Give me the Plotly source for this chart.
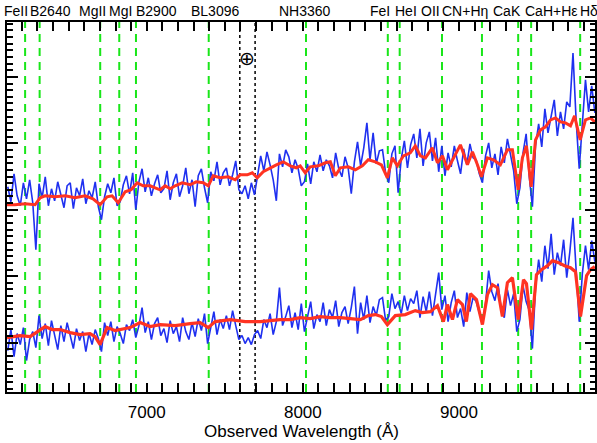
import plotly.graph_objects as go

# ---------------- data ----------------
wave_obs = [
    6110, 6130, 6150, 6170, 6190, 6210, 6230, 6250, 6270, 6290,
    6310, 6330, 6350, 6370, 6390, 6410, 6430, 6450, 6470, 6490,
    6510, 6530, 6550, 6570, 6590, 6610, 6630, 6650, 6670, 6690,
    6710, 6730, 6750, 6770, 6790, 6810, 6830, 6850, 6870, 6890,
    6910, 6930, 6950, 6970, 6990, 7010, 7030, 7050, 7070, 7090,
    7110, 7130, 7150, 7170, 7190, 7210, 7230, 7250, 7270, 7290,
    7310, 7330, 7350, 7370, 7390, 7410, 7430, 7450, 7470, 7490,
    7510, 7530, 7550, 7570, 7590, 7610, 7630, 7650, 7670, 7690,
    7710, 7730, 7750, 7770, 7790, 7810, 7830, 7850, 7870, 7890,
    7910, 7930, 7950, 7970, 7990, 8010, 8030, 8050, 8070, 8090,
    8110, 8130, 8150, 8170, 8190, 8210, 8230, 8250, 8270, 8290,
    8310, 8330, 8350, 8370, 8390, 8410, 8430, 8450, 8470, 8490,
    8510, 8530, 8550, 8570, 8590, 8610, 8630, 8650, 8670, 8690,
    8710, 8730, 8750, 8770, 8790, 8810, 8830, 8850, 8870, 8890,
    8910, 8930, 8950, 8970, 8990, 9010, 9030, 9050, 9070, 9090,
    9110, 9130, 9150, 9170, 9190, 9210, 9230, 9250, 9270, 9290,
    9310, 9330, 9350, 9370, 9390, 9410, 9430, 9450, 9470, 9490,
    9510, 9530, 9550, 9570, 9590, 9610, 9630, 9650, 9670, 9690,
    9710, 9730, 9750, 9770, 9790, 9810, 9830, 9850, 9870,
]

flux_upper = [
    20.5, 19.0, 21.8, 19.6, 18.6, 20.9, 19.3, 21.2, 18.9, 14.2,
    20.8, 19.4, 21.5, 18.6, 20.3, 19.1, 21.0, 19.8, 18.4, 20.6,
    20.9, 18.3, 20.4, 19.6, 21.3, 18.8, 20.1, 19.4, 21.0, 18.5,
    17.2, 19.5, 20.8, 19.9, 21.4, 18.6, 19.0, 20.7, 21.6, 19.8,
    21.9, 18.2, 21.0, 22.3, 20.0, 21.4, 19.6, 20.8, 21.7, 19.9,
    20.3, 22.1, 19.2, 20.9, 21.8, 19.5, 20.6, 22.4, 19.8, 21.2,
    18.5, 21.6, 22.3, 20.4, 18.9, 22.0, 21.1, 23.0, 20.7, 21.9,
    22.4, 20.6, 21.7, 23.1, 20.2, 19.8, 20.6, 19.3, 20.9, 19.7,
    21.8, 23.6, 22.1, 24.0, 22.7, 21.2, 19.1, 23.8, 22.5, 24.2,
    23.5, 21.9, 23.2, 22.3, 20.6, 21.0, 22.8, 20.8, 23.0, 22.0,
    23.7, 22.1, 23.2, 22.6, 21.4, 23.9, 22.3, 21.5, 23.5, 22.4,
    19.8, 23.0, 25.0, 22.6, 24.4, 26.9, 23.2, 25.9, 22.8, 24.1,
    24.2, 21.9, 20.9, 23.8, 24.6, 19.9, 23.3, 25.1, 22.4, 24.7,
    25.8, 23.4, 26.3, 22.6, 24.9, 26.0, 23.1, 25.4, 22.0, 24.6,
    21.6, 23.9, 22.5, 24.6, 23.1, 21.8, 24.3, 22.7, 24.8, 23.4,
    23.2, 21.8, 20.9, 23.6, 24.9, 22.4, 23.8, 21.7, 24.5, 22.9,
    25.3, 23.6, 22.1, 18.8, 20.4, 23.9, 25.8, 21.5, 18.5, 24.6,
    26.8, 24.5, 28.3, 25.9, 27.4, 29.2, 25.6, 28.0, 26.3, 29.0,
    28.5, 33.9, 27.2, 22.3, 26.8, 31.2, 28.0, 30.6, 27.9,
]

flux_lower = [
    4.1, 6.2, 3.5, 5.8, 4.7, 6.4, 3.1, 5.2, 6.0, 4.4,
    7.6, 5.3, 6.8, 4.6, 7.1, 5.5, 4.2, 6.6, 5.0, 6.9,
    5.6, 4.3, 6.3, 5.1, 6.0, 4.0, 5.8, 4.7, 6.2, 5.3,
    4.0, 6.9, 5.6, 7.0, 5.0, 6.5, 5.8, 4.8, 6.7, 6.1,
    7.2, 5.4, 6.6, 8.4, 5.9, 7.0, 5.2, 6.8, 7.4, 5.6,
    6.3, 4.9, 7.1, 5.8, 6.5, 5.0, 7.4, 6.0, 5.2, 6.9,
    5.5, 7.3, 6.1, 7.8, 4.8, 6.4, 8.0, 5.7, 7.2, 6.3,
    7.6, 6.2, 8.1, 6.6, 5.2, 5.6, 4.8, 5.4, 4.7, 5.7,
    6.1, 5.3, 7.2, 6.4, 7.8, 5.7, 7.0, 10.4, 6.6, 7.5,
    8.6, 6.4, 7.9, 6.2, 8.8, 6.0, 7.4, 9.0, 6.3, 7.7,
    7.0, 8.9, 6.6, 8.2, 7.4, 9.1, 6.5, 7.9, 8.5, 6.8,
    8.4, 10.5, 5.8, 8.9, 7.2, 9.6, 6.9, 8.5, 7.6, 9.2,
    9.4, 7.1, 7.5, 9.8, 8.3, 9.0, 7.8, 9.6, 8.1, 9.3,
    8.8, 10.1, 7.4, 9.5, 8.0, 10.0, 7.6, 9.7, 11.9, 8.2,
    9.6, 7.0, 8.9, 10.1, 7.4, 8.3, 6.5, 9.9, 8.0, 9.4,
    9.0, 7.9, 6.9, 8.8, 12.1, 10.0, 9.1, 10.8, 8.2, 7.4,
    10.2, 8.6, 9.8, 6.0, 7.2, 10.6, 9.0, 8.1, 4.3, 10.4,
    13.2, 11.0, 14.6, 12.3, 15.8, 11.7, 13.9, 12.6, 15.2, 11.4,
    14.0, 17.4, 12.5, 7.0, 11.8, 14.6, 12.2, 15.1, 13.0,
]

model_upper_wave = [
    6105, 6156, 6221, 6285, 6317, 6349, 6413, 6477, 6541, 6605,
    6656, 6701, 6746, 6778, 6817, 6862, 6900, 6938, 6977, 7022,
    7054, 7086, 7118, 7150, 7182, 7227, 7278, 7317, 7362, 7394,
    7426, 7470, 7522, 7567, 7599, 7644, 7676, 7708, 7746, 7791,
    7830, 7874, 7919, 7958, 7983, 8015, 8047, 8099, 8144, 8176,
    8208, 8240, 8291, 8336, 8381, 8419, 8464, 8503, 8541, 8573,
    8605, 8644, 8688, 8720, 8753, 8785, 8829, 8862, 8894, 8926,
    8958, 9009, 9054, 9086, 9118, 9144, 9182, 9220, 9265, 9310,
    9342, 9379, 9406, 9432, 9462, 9490, 9522, 9554, 9586, 9618,
    9650, 9682, 9714, 9740, 9776, 9810, 9842, 9870,
]
model_upper_flux = [
    18.7, 18.7, 18.8, 18.7, 19.4, 19.6, 19.5, 19.6, 19.4, 19.6,
    19.3, 18.7, 19.5, 19.6, 18.9, 20.0, 20.2, 20.9, 20.6, 20.6,
    20.4, 20.2, 20.6, 20.3, 20.6, 20.9, 20.7, 21.0, 20.9, 20.6,
    21.6, 21.4, 21.5, 21.2, 21.7, 21.7, 21.9, 21.4, 22.0, 22.4,
    22.7, 23.0, 22.6, 22.4, 22.6, 21.9, 22.5, 22.6, 22.9, 23.0,
    21.6, 22.4, 22.5, 22.2, 22.6, 23.2, 23.0, 22.7, 21.4, 23.4,
    22.6, 23.6, 23.9, 24.6, 23.6, 23.4, 24.4, 22.9, 23.6, 22.2,
    23.2, 24.7, 22.7, 24.0, 22.7, 21.5, 23.4, 23.2, 22.7, 24.2,
    24.2, 20.2, 23.4, 24.6, 20.5, 25.2, 26.2, 26.5, 27.2, 27.4,
    27.0, 26.9, 26.6, 27.6, 25.2, 27.2, 27.4, 27.0,
]

model_lower_wave = [
    6105, 6188, 6253, 6317, 6349, 6394, 6445, 6509, 6573, 6637,
    6669, 6701, 6746, 6797, 6829, 6894, 6958, 7022, 7086, 7182,
    7278, 7342, 7394, 7438, 7535, 7631, 7727, 7791, 7855, 7919,
    7983, 8047, 8112, 8176, 8240, 8304, 8368, 8419, 8464, 8503,
    8541, 8592, 8656, 8720, 8765, 8817, 8862, 8900, 8926, 8958,
    8990, 9022, 9047, 9073, 9112, 9150, 9182, 9214, 9246, 9278,
    9310, 9342, 9379, 9413, 9432, 9464, 9496, 9528, 9567, 9599,
    9637, 9676, 9714, 9746, 9778, 9817, 9842, 9870,
]
model_lower_flux = [
    5.4, 5.6, 5.5, 6.2, 6.5, 6.2, 6.2, 5.9, 5.7, 5.8,
    5.5, 4.7, 6.4, 6.1, 6.2, 6.4, 6.9, 6.5, 6.7, 6.6,
    6.8, 6.9, 6.4, 7.0, 7.2, 7.0, 7.0, 7.1, 7.2, 7.2,
    7.4, 7.3, 7.5, 7.4, 7.4, 7.3, 7.2, 7.6, 7.7, 7.5,
    6.7, 7.6, 7.7, 8.1, 7.9, 8.0, 8.6, 7.0, 8.7, 7.2,
    9.2, 8.7, 7.0, 9.8, 9.2, 6.7, 9.7, 10.7, 10.4, 7.5,
    10.9, 11.4, 7.2, 11.2, 10.8, 6.2, 11.7, 12.2, 12.6, 13.1,
    12.9, 12.6, 12.4, 12.0, 7.5, 11.6, 12.2, 12.5,
]

line_waves = [6221, 6314, 6702, 6824, 6931, 7397, 8020, 8544, 8620,
              8891, 9147, 9379, 9462, 9776]
telluric_waves = [7596, 7694]

label_texts = ["FeII", "B2640", "MgII", "MgI", "B2900", "BL3096", "NH3360",
               "FeI", "HeI", "OII", "CN+Hη", "CaK", "CaH+Hε", "Hδ"]
label_waves = [6163, 6381, 6650, 6830, 7060, 7438, 8015,
               8495, 8662, 8815, 9040, 9310, 9595, 9830]

earth_wave = [7644]
earth_flux = [33.4]

x_title = "Observed Wavelength (Å)"

# ---------------- figure ----------------
BLUE = "#1f30f0"
RED = "#ff3322"
GREEN = "#19e619"
FONT = "Liberation Sans, Arial, sans-serif"

fig = go.Figure()
fig.add_trace(go.Scatter(x=wave_obs, y=flux_upper, mode="lines",
                         line=dict(color=BLUE, width=1.6), showlegend=False))
fig.add_trace(go.Scatter(x=wave_obs, y=flux_lower, mode="lines",
                         line=dict(color=BLUE, width=1.6), showlegend=False))
fig.add_trace(go.Scatter(x=model_upper_wave, y=model_upper_flux, mode="lines",
                         line=dict(color=RED, width=3), showlegend=False))
fig.add_trace(go.Scatter(x=model_lower_wave, y=model_lower_flux, mode="lines",
                         line=dict(color=RED, width=3.2), showlegend=False))
fig.add_trace(go.Scatter(x=[], y=[], yaxis="y2", showlegend=False))

for w in line_waves:
    fig.add_shape(type="line", xref="x", yref="paper", x0=w, x1=w, y0=0, y1=1,
                  line=dict(color=GREEN, width=2, dash="8px,6px"), layer="below")
for w in telluric_waves:
    fig.add_shape(type="line", xref="x", yref="paper", x0=w, x1=w, y0=0, y1=1,
                  line=dict(color="black", width=1.5, dash="dot"), layer="below")

for t, w in zip(label_texts, label_waves):
    fig.add_annotation(x=w, y=1, xref="x", yref="paper", text=t, showarrow=False,
                       xanchor="center", yanchor="bottom", yshift=1,
                       font=dict(family=FONT, size=14, color="black"))

fig.add_annotation(x=earth_wave[0], y=earth_flux[0], xref="x", yref="y", text="⊕",
                   showarrow=False, font=dict(family="DejaVu Sans", size=19, color="black"))

fig.add_annotation(x=0.5, y=-0.107, xref="paper", yref="paper", text=x_title,
                   showarrow=False, xanchor="center", yanchor="middle",
                   font=dict(family=FONT, size=17, color="black"))

RANGE_Y = [-0.05, 37.0]
fig.update_layout(
    width=597, height=443,
    margin=dict(l=7, r=2, t=22, b=51, autoexpand=False),
    paper_bgcolor="white", plot_bgcolor="white",
    font=dict(family=FONT, size=17, color="black"),
    xaxis=dict(range=[6105, 9871], showgrid=False, zeroline=False, automargin=False,
               showline=True, linewidth=2, linecolor="black", mirror="allticks",
               ticks="inside", ticklen=9, tickwidth=1.5, tickcolor="black",
               tick0=0, dtick=1000, ticklabelstandoff=4, exponentformat="none",
               tickformat="d",
               tickfont=dict(family=FONT, size=17),
               minor=dict(ticks="inside", ticklen=5, dtick=100, tick0=0,
                          tickwidth=1.5, tickcolor="black", showgrid=False)),
    yaxis=dict(range=RANGE_Y, showgrid=False, zeroline=False, showticklabels=False,
               automargin=False,
               showline=True, linewidth=2, linecolor="black",
               ticks="inside", ticklen=11, tickwidth=2, tickcolor="black",
               tick0=4.9, dtick=6.65,
               minor=dict(ticks="inside", ticklen=6, dtick=0.665, tick0=4.9,
                          tickwidth=1.5, tickcolor="black", showgrid=False)),
    yaxis2=dict(range=RANGE_Y, overlaying="y", side="right", anchor="x",
                showgrid=False, zeroline=False, showticklabels=False, automargin=False,
                showline=True, linewidth=2, linecolor="black",
                ticks="inside", ticklen=10, tickwidth=2, tickcolor="black",
                tick0=4.9, dtick=13.3,
                minor=dict(ticks="inside", ticklen=5, dtick=0.665, tick0=4.9,
                           tickwidth=1.5, tickcolor="black", showgrid=False)),
)

fig.write_html(
    "out.html",
    config={"displayModeBar": False},
    post_script="document.body.style.margin='0';document.body.style.overflow='hidden';",
)
